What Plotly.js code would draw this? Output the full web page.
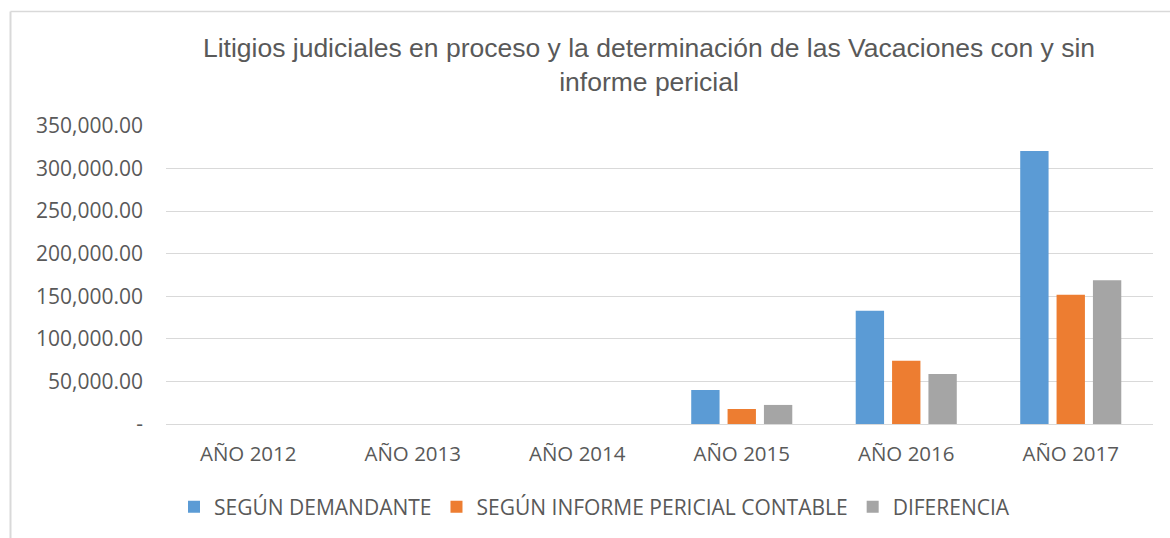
<!DOCTYPE html>
<html>
<head>
<meta charset="utf-8">
<script src="https://cdn.plot.ly/plotly-3.0.1.min.js"></script>
<style>
html,body{margin:0;padding:0;background:#fff;}
#chart{width:1170px;height:538px;}
</style>
</head>
<body>
<div id="chart"></div>
<script>
const categories = ['AÑO 2012','AÑO 2013','AÑO 2014','AÑO 2015','AÑO 2016','AÑO 2017'];
const seriesNames = ['SEGÚN DEMANDANTE','SEGÚN INFORME PERICIAL CONTABLE','DIFERENCIA'];
const demandante = [0, 0, 0, 40000, 133000, 320600];
const pericial = [0, 0, 0, 17600, 74300, 151900];
const diferencia = [0, 0, 0, 22400, 58700, 168700];
const yTickVals = [0, 50000, 100000, 150000, 200000, 250000, 300000, 350000];
const yTickText = ['-', '50,000.00', '100,000.00', '150,000.00', '200,000.00', '250,000.00', '300,000.00', '350,000.00'];
const colors = ['#5b9bd5', '#ed7d31', '#a5a5a5'];
const titleText = 'Litigios judiciales en proceso y la determinación de las Vacaciones con y sin<br>informe pericial';

const seriesValues = [demandante, pericial, diferencia];
const traces = seriesNames.map((n, i) => ({
  type: 'bar',
  name: n,
  x: categories,
  y: seriesValues[i],
  marker: {color: colors[i]},
  hoverinfo: 'x+y+name'
}));

const L = 166, R = 17, T = 126, B = 114;
const W = 1170, H = 538;
const pw = W - L - R, ph = H - T - B;
const px = v => (v - L) / pw;
const py = v => (H - B - v) / ph;

const layout = {
  width: W, height: H,
  margin: {l: L, r: R, t: T, b: B},
  paper_bgcolor: '#ffffff',
  plot_bgcolor: '#ffffff',
  font: {family: 'Open Sans, Noto Sans, sans-serif', color: '#595959', size: 21},
  title: {
    text: titleText,
    font: {family: 'Liberation Sans, Arial, sans-serif', size: 26.5, color: '#595959'},
    xref: 'paper', x: px(649), xanchor: 'center',
    yref: 'container', y: 1 - 57 / H, yanchor: 'top'
  },
  barmode: 'group',
  bargap: 0.337,
  bargroupgap: 0.22,
  xaxis: {
    type: 'category',
    showgrid: false,
    zeroline: false,
    showline: true,
    linecolor: '#d9d9d9',
    linewidth: 1,
    ticks: '',
    ticklabelstandoff: 11,
    tickfont: {size: 20.5, color: '#595959'}
  },
  yaxis: {
    range: [0, 350000],
    tickvals: yTickVals,
    ticktext: yTickText,
    showgrid: true,
    gridcolor: '#d9d9d9',
    gridwidth: 1,
    zeroline: false,
    showline: false,
    ticks: '',
    ticklabelstandoff: 22,
    tickfont: {size: 21, color: '#595959'}
  },
  showlegend: true,
  legend: {
    orientation: 'h',
    xref: 'paper', x: px(174), xanchor: 'left',
    yref: 'container', y: 1 - 507 / H, yanchor: 'middle',
    font: {size: 21, color: '#595959'},
    itemwidth: 30,
    traceorder: 'normal'
  },
  shapes: [
    {type: 'line', xref: 'paper', yref: 'paper', x0: px(10.5), x1: px(10.5), y0: py(540), y1: py(11.5), line: {color: '#d9d9d9', width: 2}},
    {type: 'line', xref: 'paper', yref: 'paper', x0: px(10.5), x1: px(1175), y0: py(11.5), y1: py(11.5), line: {color: '#d9d9d9', width: 1.5}}
  ]
};

Plotly.newPlot('chart', traces, layout, {displayModeBar: false, staticPlot: true});
</script>
</body>
</html>
